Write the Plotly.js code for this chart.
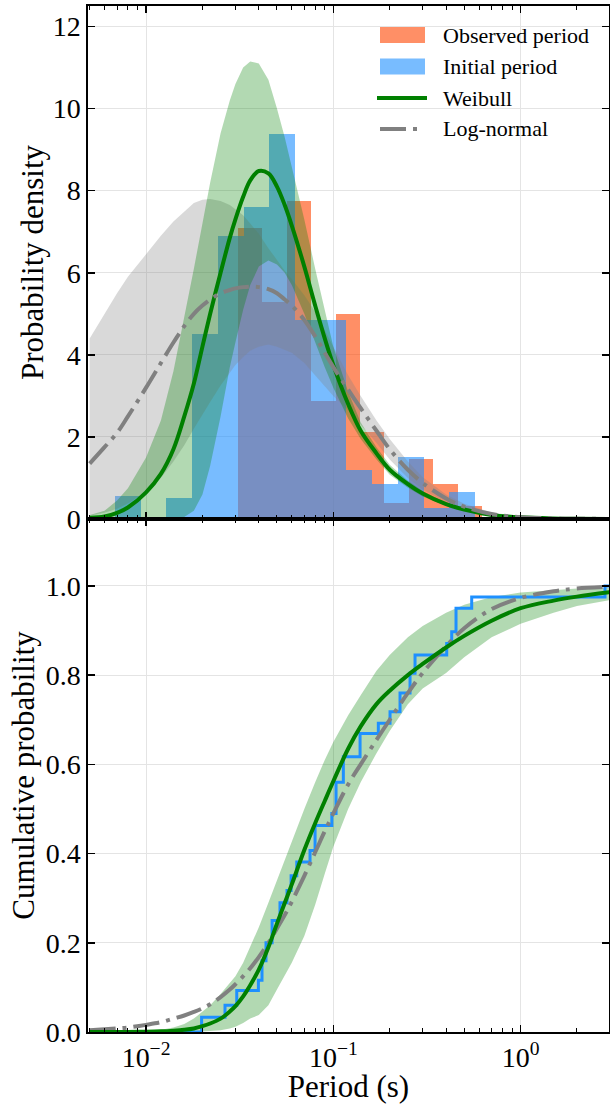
<!DOCTYPE html>
<html><head><meta charset="utf-8">
<script src="https://cdn.plot.ly/plotly-3.0.1.min.js"></script>
<style>html,body{margin:0;padding:0;background:#fff}#chart{width:610px;height:1104px}</style>
</head><body><div id="chart"></div>
<script>
// ---------------- data ----------------
// Histogram bin edges (s) and densities
const observedEdges = [0.03098, 0.04182, 0.05645, 0.07621, 0.10287, 0.13886, 0.18744, 0.25300, 0.34155, 0.46105, 0.62230];
const observedDensity = [7.08, 5.28, 7.75, 2.88, 5.0, 2.11, 0.40, 1.46, 0.85, 0.32];
const initialEdges = [0.006832, 0.009372, 0.012854, 0.017634, 0.024189, 0.033189, 0.045530, 0.062460, 0.085680, 0.11754, 0.16125, 0.22121, 0.30345, 0.41630, 0.57110];
const initialDensity = [0.55, 0, 0.52, 4.52, 6.89, 7.6, 9.39, 4.84, 4.84, 1.2, 0.85, 1.52, 0.28, 0.66];

// Period grid for the fitted curves (s)
const periodGrid = [0.005,0.006,0.007,0.008,0.01,0.012,0.014,0.016,0.018,0.02,0.022,0.025,0.028,0.03,0.033,0.036,0.04,0.045,0.05,0.055,0.06,0.07,0.08,0.09,0.1,0.12,0.14,0.17,0.2,0.25,0.3,0.4,0.5,0.7,1,1.5,2,3];
const weibullPdf     = [0.03,0.06,0.15,0.28,0.65,1.1,1.7,2.5,3.3,4.2,5.0,6.0,6.85,7.3,7.85,8.25,8.48,8.42,8.1,7.65,7.15,6.15,5.2,4.4,3.75,2.8,2.15,1.6,1.2,0.85,0.62,0.36,0.23,0.1,0.04,0.012,0.005,0.001];
const weibullPdfHigh = [0.1,0.2,0.45,0.75,1.5,2.4,3.6,4.9,6.1,7.2,8.2,9.4,10.2,10.6,11.0,11.15,11.1,10.7,10.0,9.3,8.6,7.3,6.1,5.1,4.2,3.1,2.35,1.75,1.32,0.93,0.68,0.4,0.25,0.11,0.045,0.014,0.006,0.001];
const weibullPdfLow  = [0,0,0,0,0,0,0.01,0.05,0.2,0.6,1.3,2.5,3.7,4.3,5.1,5.7,6.15,6.3,6.2,6.0,5.7,5.0,4.3,3.7,3.2,2.45,1.95,1.45,1.08,0.76,0.55,0.32,0.2,0.085,0.035,0.01,0.004,0.001];
const lognormPdf     = [1.35,1.75,2.1,2.5,3.2,3.8,4.3,4.7,5.0,5.2,5.35,5.5,5.58,5.62,5.65,5.66,5.65,5.6,5.5,5.35,5.2,4.85,4.45,4.05,3.7,3.15,2.7,2.15,1.7,1.2,0.88,0.5,0.3,0.12,0.045,0.014,0.006,0.002];
const lognormPdfHigh = [4.4,5.0,5.5,5.9,6.45,6.9,7.25,7.5,7.7,7.78,7.8,7.75,7.65,7.55,7.4,7.2,6.95,6.6,6.3,6.05,5.85,5.45,5.05,4.6,4.2,3.5,3.0,2.4,1.95,1.4,1.02,0.6,0.37,0.16,0.06,0.02,0.008,0.002];
const lognormPdfLow  = [0.08,0.15,0.25,0.38,0.65,1.0,1.4,1.8,2.2,2.55,2.85,3.25,3.55,3.75,3.95,4.1,4.2,4.25,4.2,4.13,4.05,3.8,3.5,3.25,3.0,2.65,2.3,1.85,1.45,1.0,0.72,0.4,0.23,0.09,0.03,0.009,0.003,0.001];

const weibullCdf     = [0,0,0,0.0002,0.0007,0.0015,0.003,0.005,0.008,0.013,0.019,0.03,0.046,0.058,0.08,0.105,0.14,0.19,0.243,0.289,0.331,0.408,0.468,0.518,0.562,0.635,0.685,0.735,0.765,0.8,0.825,0.862,0.888,0.922,0.95,0.967,0.976,0.986];
const weibullCdfHigh = [0,0,0.0005,0.001,0.002,0.005,0.01,0.018,0.03,0.045,0.06,0.085,0.11,0.125,0.155,0.19,0.235,0.29,0.34,0.385,0.43,0.5,0.56,0.61,0.65,0.71,0.755,0.81,0.845,0.885,0.91,0.94,0.958,0.975,0.985,0.991,0.994,0.996];
const weibullCdfLow  = [0,0,0,0,0,0,0,0,0,0.001,0.002,0.004,0.008,0.012,0.02,0.03,0.038,0.06,0.095,0.125,0.155,0.215,0.285,0.355,0.415,0.5,0.56,0.625,0.675,0.735,0.77,0.805,0.84,0.885,0.915,0.94,0.955,0.968];
const lognormCdf     = [0.004,0.006,0.008,0.01,0.016,0.022,0.03,0.037,0.045,0.053,0.062,0.078,0.095,0.107,0.125,0.143,0.168,0.2,0.232,0.262,0.292,0.35,0.403,0.45,0.49,0.555,0.6,0.655,0.7,0.76,0.805,0.865,0.905,0.948,0.973,0.988,0.994,0.998];

// Empirical CDF of the initial periods (step positions and levels)
const ecdfPeriod = [0.005,0.0198,0.0264,0.0305,0.0398,0.0416,0.0437,0.0471,0.0519,0.0566,0.0595,0.0638,0.0751,0.0799,0.0982,0.1034,0.1131,0.1389,0.1739,0.2008,0.2271,0.2568,0.2731,0.4031,0.4287,0.452,0.5481,2.823,3];
const ecdfLevel  = [0,0.033,0.06,0.093,0.116,0.16,0.2,0.25,0.29,0.317,0.35,0.381,0.407,0.463,0.49,0.56,0.617,0.669,0.692,0.718,0.76,0.804,0.845,0.871,0.897,0.95,0.975,1.0,1.0];

// Axis ticks and legend labels
const xTickVals = [0.01, 0.1, 1];
const xTickText = ['10<sup>\u22122</sup>', '10<sup>\u22121</sup>', '10<sup>0</sup>'];
const legendLabels = ['Observed period', 'Initial period', 'Weibull', 'Log-normal'];

// ---------------- build ----------------
const FONT = 'Liberation Serif';
const W = 610, H = 1104, ML = 88, MR = 1, MT = 6, MB = 72;
const PW = W - ML - MR, PH = H - MT - MB;
const px = v => (v - ML) / PW;          // pixel -> paper x
const py = v => (H - MB - v) / PH;      // pixel -> paper y

const minorVals = [];
[0.001, 0.01, 0.1, 1].forEach(d => { for (let k = 2; k <= 9; k++) minorVals.push(+(k * d).toPrecision(3)); });

function barsFrom(edges, heights) {
  return {
    x: edges.slice(0, -1),
    width: edges.slice(1).map((e, i) => e - edges[i]),
    y: heights
  };
}
const ob = barsFrom(observedEdges, observedDensity);
const ib = barsFrom(initialEdges, initialDensity);
const DASHDOT = '26px,7px,4px,7px';
const C_OBS = 'rgba(255,69,0,0.6)', C_INI = 'rgba(30,144,255,0.6)', C_WEI = '#008000', C_LOG = '#808080';

const traces = [
  {type:'bar', x:ob.x, width:ob.width, offset:0, y:ob.y, xaxis:'x', yaxis:'y',
   marker:{color:C_OBS, line:{width:0}}, name:legendLabels[0]},
  {type:'bar', x:ib.x, width:ib.width, offset:0, y:ib.y, xaxis:'x', yaxis:'y',
   marker:{color:C_INI, line:{width:0}}, name:legendLabels[1]},
  // log-normal band
  {type:'scatter', mode:'lines', x:periodGrid, y:lognormPdfLow, xaxis:'x', yaxis:'y',
   line:{width:0, color:'rgba(128,128,128,0)'}, hoverinfo:'skip'},
  {type:'scatter', mode:'lines', x:periodGrid, y:lognormPdfHigh, xaxis:'x', yaxis:'y', fill:'tonexty',
   fillcolor:'rgba(128,128,128,0.3)', line:{width:0, color:'rgba(128,128,128,0)'}, hoverinfo:'skip'},
  // weibull band
  {type:'scatter', mode:'lines', x:periodGrid, y:weibullPdfLow, xaxis:'x', yaxis:'y',
   line:{width:0, color:'rgba(0,128,0,0)'}, hoverinfo:'skip'},
  {type:'scatter', mode:'lines', x:periodGrid, y:weibullPdfHigh, xaxis:'x', yaxis:'y', fill:'tonexty',
   fillcolor:'rgba(0,128,0,0.3)', line:{width:0, color:'rgba(0,128,0,0)'}, hoverinfo:'skip'},
  {type:'scatter', mode:'lines', x:periodGrid, y:weibullPdf, xaxis:'x', yaxis:'y',
   line:{color:C_WEI, width:4, shape:'spline'}, name:legendLabels[2]},
  {type:'scatter', mode:'lines', x:periodGrid, y:lognormPdf, xaxis:'x', yaxis:'y',
   line:{color:C_LOG, width:4, dash:DASHDOT, shape:'spline'}, name:legendLabels[3]},
  // bottom panel
  {type:'scatter', mode:'lines', x:periodGrid, y:weibullCdfLow, xaxis:'x2', yaxis:'y2',
   line:{width:0, color:'rgba(0,128,0,0)'}, hoverinfo:'skip'},
  {type:'scatter', mode:'lines', x:periodGrid, y:weibullCdfHigh, xaxis:'x2', yaxis:'y2', fill:'tonexty',
   fillcolor:'rgba(0,128,0,0.3)', line:{width:0, color:'rgba(0,128,0,0)'}, hoverinfo:'skip'},
  {type:'scatter', mode:'lines', x:ecdfPeriod, y:ecdfLevel, xaxis:'x2', yaxis:'y2',
   line:{color:'#1e90ff', width:3, shape:'hv'}},
  {type:'scatter', mode:'lines', x:periodGrid, y:lognormCdf, xaxis:'x2', yaxis:'y2',
   line:{color:C_LOG, width:4, dash:DASHDOT, shape:'spline'}},
  {type:'scatter', mode:'lines', x:periodGrid, y:weibullCdf, xaxis:'x2', yaxis:'y2',
   line:{color:C_WEI, width:4, shape:'spline'}}
];

// Legend drawn as a key in the top-right corner (patches, lines, labels)
const keyRows = [35, 66.5, 98, 129];
const shapes = [
  {type:'rect', xref:'paper', yref:'paper', x0:px(380), x1:px(425), y0:py(keyRows[0]-8), y1:py(keyRows[0]+8), fillcolor:C_OBS, line:{width:0}},
  {type:'rect', xref:'paper', yref:'paper', x0:px(380), x1:px(425), y0:py(keyRows[1]-8), y1:py(keyRows[1]+8), fillcolor:C_INI, line:{width:0}},
  {type:'line', xref:'paper', yref:'paper', x0:px(377), x1:px(427), y0:py(keyRows[2]), y1:py(keyRows[2]), line:{color:C_WEI, width:4}},
  {type:'line', xref:'paper', yref:'paper', x0:px(380), x1:px(424), y0:py(keyRows[3]), y1:py(keyRows[3]), line:{color:C_LOG, width:4, dash:DASHDOT}}
];
const annotations = legendLabels.map((t, i) => ({
  xref:'paper', yref:'paper', x:px(441), y:py(keyRows[i]), xanchor:'left', yanchor:'middle',
  text:t, showarrow:false, font:{family:FONT, size:22, color:'black'}
}));

const common = {
  showline:true, linecolor:'black', linewidth:1.6, mirror:'ticks',
  ticks:'inside', ticklen:7, tickwidth:1.5, tickcolor:'black',
  showgrid:true, gridcolor:'#e4e4e4', gridwidth:1, zeroline:false,
  tickfont:{family:FONT, size:28, color:'black'}
};
const xCommon = Object.assign({}, common, {
  type:'log', range:[-2.31, 0.472], tickmode:'array', tickvals:xTickVals, ticktext:xTickText,
  minor:{tickmode:'array', tickvals:minorVals, ticks:'inside', ticklen:4, tickwidth:1, tickcolor:'black', showgrid:false}
});

const layout = {
  width:W, height:H,
  margin:{l:ML, r:MR, t:MT, b:MB},
  paper_bgcolor:'white', plot_bgcolor:'white',
  barmode:'overlay', bargap:0,
  font:{family:FONT, color:'black'},
  showlegend:false,
  shapes:shapes, annotations:annotations,
  xaxis:Object.assign({}, xCommon, {anchor:'y', domain:[0,1], showticklabels:false, matches:'x2'}),
  xaxis2:Object.assign({}, xCommon, {anchor:'y2', domain:[0,1],
    title:{text:'Period (s)', font:{family:FONT, size:31, color:'black'}, standoff:9}}),
  yaxis:Object.assign({}, common, {anchor:'x', domain:[0.5,1], range:[0,12.5], dtick:2, tick0:0,
    title:{text:'Probability density', font:{family:FONT, size:31, color:'black'}, standoff:0}}),
  yaxis2:Object.assign({}, common, {anchor:'x2', domain:[0,0.5], range:[0,1.15], dtick:0.2, tick0:0, tickformat:'.1f',
    title:{text:'Cumulative probability', font:{family:FONT, size:31, color:'black'}, standoff:2}})
};

Plotly.newPlot('chart', traces, layout, {staticPlot:true, displayModeBar:false});
</script>
</body></html>
